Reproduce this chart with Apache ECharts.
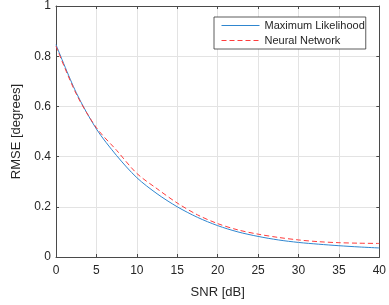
<!DOCTYPE html>
<html><head><meta charset="utf-8">
<script src="https://cdn.jsdelivr.net/npm/echarts@6/dist/echarts.min.js"></script>
<style>html,body{margin:0;padding:0;background:#fff}#c{width:389px;height:305px}</style>
</head><body><div id="c"></div>
<script>
const snr = [0, 2.5, 5, 7.5, 10, 12.5, 15, 17.5, 20, 22.5, 25, 27.5, 30, 32.5, 35, 37.5, 40];
const mlRmse = [0.846, 0.655, 0.51, 0.404, 0.316, 0.252, 0.200, 0.158, 0.125, 0.100, 0.082, 0.068, 0.058, 0.051, 0.045, 0.040, 0.036];
const nnRmse = [0.840, 0.650, 0.515, 0.425, 0.333, 0.272, 0.215, 0.168, 0.133, 0.108, 0.091, 0.078, 0.068, 0.061, 0.057, 0.055, 0.054];
const xTicks = [0, 5, 10, 15, 20, 25, 30, 35, 40];
const yTicks = [0, 0.2, 0.4, 0.6, 0.8, 1];
const seriesNames = ['Maximum Likelihood', 'Neural Network'];
const seriesColors = ['#2f86cf', '#ff3b3b'];

const axisCol = '#4a4a4a';
const txtCol = '#262626';
const font = 'Liberation Sans, Arial, sans-serif';
const chart = echarts.init(document.getElementById('c'));
const baseX = {
  type: 'value', min: xTicks[0], max: xTicks[xTicks.length - 1], interval: 5,
  axisLine: { show: true, onZero: false, lineStyle: { color: axisCol, width: 1 } },
  axisTick: { show: true, inside: true, length: 3, lineStyle: { color: axisCol } },
};
const baseY = {
  type: 'value', min: yTicks[0], max: yTicks[yTicks.length - 1], interval: 0.2,
  axisLine: { show: true, onZero: false, lineStyle: { color: axisCol, width: 1 } },
  axisTick: { show: true, inside: true, length: 3, lineStyle: { color: axisCol } },
};
chart.setOption({
  animation: false,
  textStyle: { fontFamily: font },
  grid: { left: 56, right: 5, top: 4.5, bottom: 48, containLabel: false },
  legend: {
    orient: 'vertical', left: 214, top: 17,
    backgroundColor: '#fff', borderColor: '#333', borderWidth: 0.8, borderRadius: 0,
    padding: [3, 1, 3, 7], itemGap: 4, itemWidth: 38, itemHeight: 10,
    itemStyle: { opacity: 0 },
    textStyle: { fontSize: 11, color: txtCol, fontFamily: font },
    data: [
      { name: seriesNames[0], lineStyle: { color: seriesColors[0], width: 1 } },
      { name: seriesNames[1], lineStyle: { color: seriesColors[1], width: 1, type: [5, 3] } }
    ]
  },
  xAxis: [
    Object.assign({}, baseX, {
      position: 'bottom',
      name: 'SNR [dB]', nameLocation: 'middle', nameGap: 29,
      nameTextStyle: { fontSize: 13, color: txtCol, fontFamily: font },
      axisLabel: { show: true, fontSize: 12, color: txtCol, margin: 8, fontFamily: font, showMaxLabel: true, showMinLabel: true },
      splitLine: { show: true, lineStyle: { color: '#e3e3e3', width: 1 } }
    }),
    Object.assign({}, baseX, { position: 'top', axisLabel: { show: false }, splitLine: { show: false } })
  ],
  yAxis: [
    Object.assign({}, baseY, {
      position: 'left',
      name: 'RMSE [degrees]', nameLocation: 'middle', nameGap: 28, nameRotate: 90,
      nameTextStyle: { fontSize: 13, color: txtCol, fontFamily: font },
      axisLabel: { show: true, fontSize: 12, color: txtCol, margin: 5, fontFamily: font, showMaxLabel: true, showMinLabel: true,
        formatter: v => (Math.round(v * 10) / 10).toString() },
      splitLine: { show: true, lineStyle: { color: '#e3e3e3', width: 1 } }
    }),
    Object.assign({}, baseY, { position: 'right', axisLabel: { show: false }, splitLine: { show: false } })
  ],
  series: [
    { name: seriesNames[0], type: 'line', smooth: 0.3, showSymbol: false, symbol: 'none',
      data: snr.map((x, i) => [x, mlRmse[i]]),
      lineStyle: { color: seriesColors[0], width: 1 }, itemStyle: { color: seriesColors[0] } },
    { name: seriesNames[1], type: 'line', smooth: 0.3, showSymbol: false, symbol: 'none',
      data: snr.map((x, i) => [x, nnRmse[i]]),
      lineStyle: { color: seriesColors[1], width: 1, type: [5, 3] }, itemStyle: { color: seriesColors[1] } }
  ]
});
</script></body></html>
